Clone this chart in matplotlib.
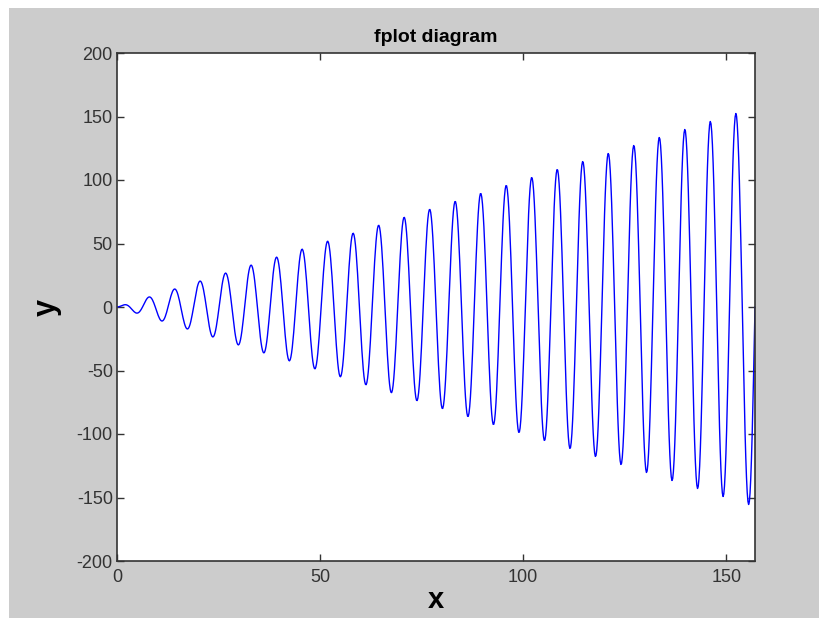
import numpy as np
import matplotlib
matplotlib.use("Agg")
import matplotlib.pyplot as plt
from matplotlib.patches import Rectangle

plt.rcParams['font.family'] = ['Liberation Sans', 'DejaVu Sans']
plt.rcParams['axes.unicode_minus'] = False

# fplot of y = x*sin(x) over [0, 50*pi]
x_start = 0.0
x_end = 50 * np.pi
n_samples = 900
x = np.linspace(x_start, x_end, n_samples)
y = x * np.sin(x)

x_ticks = [0, 50, 100, 150]
y_ticks = [-200, -150, -100, -50, 0, 50, 100, 150, 200]

fig = plt.figure(figsize=(8.2, 6.18), dpi=100, facecolor='white')
# matlab grey figure area with a thin white margin at left/top
fig.patches.append(Rectangle((9 / 820, 0), 1, 1 - 8 / 618, transform=fig.transFigure,
                             facecolor='#cccccc', edgecolor='none', zorder=-1))

ax = fig.add_axes([117 / 820, 1 - 561 / 618, 638 / 820, 508 / 618])
ax.set_facecolor('white')
ax.plot(x, y, color='blue', linewidth=1.0)

ax.set_xlim(x_start, x_end)
ax.set_ylim(-200, 200)
ax.set_xticks(x_ticks)
ax.set_yticks(y_ticks)
ax.tick_params(direction='in', length=5, width=1, top=True, right=True,
               labelsize=13, colors='#333333', pad=3)
ax.tick_params(axis='x', pad=6)
for s in ax.spines.values():
    s.set_color('#333333')
    s.set_linewidth(1.2)

ax.set_title('fplot diagram', fontsize=14, fontweight='bold', pad=8)
ax.set_xlabel('x', fontsize=21, fontweight='bold', labelpad=0)
ax.set_ylabel('y', fontsize=22, fontweight='bold', labelpad=11)

fig.savefig('out.png', dpi=100)
